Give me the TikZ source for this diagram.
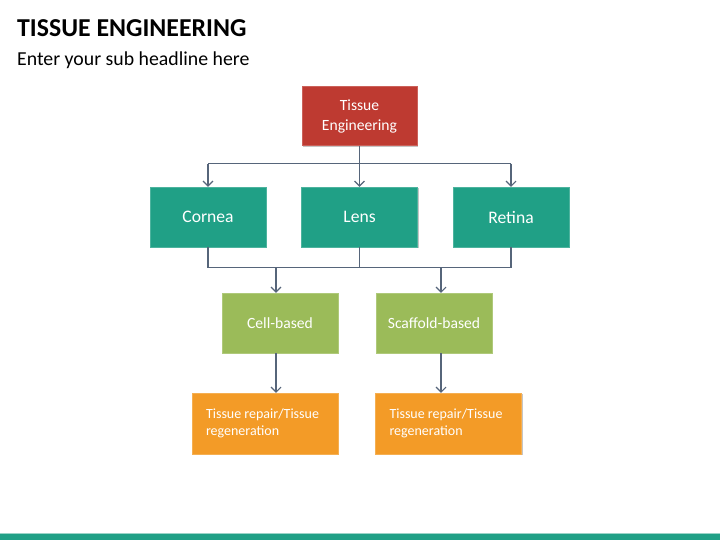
\documentclass[tikz,border=0pt]{standalone}
\usepackage{fontspec}
\setmainfont{Carlito}
\usetikzlibrary{arrows.meta,shadows}

\definecolor{boxred}{HTML}{BE3A31}
\definecolor{boxteal}{HTML}{20A086}
\definecolor{boxgreen}{HTML}{9BBB59}
\definecolor{boxorange}{HTML}{F39B27}
\definecolor{linkgray}{HTML}{56657A}

\tikzset{
	block/.style={draw=#1!80!white, fill=#1, text=white, minimum width=116pt, minimum height=60pt,
		inner sep=2pt, drop shadow={shadow xshift=1.2pt, shadow yshift=-1.2pt, opacity=0.45}},
	link/.style={draw=linkgray, line width=1.3pt},
	tolink/.style={link, -{Straight Barb[length=5pt,width=10pt,line width=1.1pt]}}
}

\begin{document}
\begin{tikzpicture}[x=1pt, y=-1pt]
				\fill[white] (0,0) rectangle (720,540);
				\useasboundingbox (0,0) rectangle (720,540);
				% header
				\node[anchor=base west, inner sep=0pt, font=\fontsize{25.8}{28}\selectfont\bfseries] (title) at (17,37) {TISSUE ENGINEERING};
				\node[anchor=base west, inner sep=0pt, font=\fontsize{19.8}{22}\selectfont] (sub) at (17,66) {Enter your sub headline here};
				% boxes
				\node[block=boxred, minimum width=115pt, minimum height=59pt, align=center, font=\fontsize{15.6}{20}\selectfont] (te) at (359.5,116) {Tissue\\Engineering};
				\foreach \x/\n/\t in {208/cornea/Cornea, 359.5/lens/Lens, 511/retina/Retina}
					\node[block=boxteal, font=\fontsize{17.6}{20}\selectfont] (\n) at (\x,217) {\t};
				\node[block=boxgreen, font=\fontsize{15.6}{18}\selectfont] (cell) at (280,323) {Cell-based};
				\node[block=boxgreen, font=\fontsize{15.6}{18}\selectfont] (scaffold) at (434,323) {Scaffold-based};
				\foreach \x/\n in {265/rep1, 448.5/rep2}
					\node[block=boxorange, minimum width=146pt, minimum height=61pt, align=flush left, text width=118pt, font=\fontsize{14}{17.5}\selectfont] (\n) at (\x,423.5) {Tissue repair/Tissue\\regeneration};
				% links
				\draw[link] (te.south) -- ++(0,18) coordinate (hubtop);
				\draw[link] (cornea.north |- hubtop) -- (retina.north |- hubtop);
				\foreach \n in {cornea, lens, retina}
					\draw[tolink] (\n.north |- hubtop) -- (\n.north);
				\draw[link] (cornea.south) -- ++(0,20) coordinate (hubmid) -| (retina.south);
				\draw[link] (lens.south) -- (lens.south |- hubmid);
				\draw[tolink] ([xshift=-4pt]cell.north |- hubmid) -- ([xshift=-4pt]cell.north);
				\draw[tolink] ([xshift=7pt]scaffold.north |- hubmid) -- ([xshift=7pt]scaffold.north);
				\draw[tolink] ([xshift=-4pt]cell.south) -- ([xshift=-4pt]cell.south |- rep1.north);
				\draw[tolink] ([xshift=7pt]scaffold.south) -- ([xshift=7pt]scaffold.south |- rep2.north);
				% footer bar
				\fill[boxteal!45!white] (0,532.5) rectangle (720,534);
				\fill[boxteal] (0,534) rectangle (720,540);
			\end{tikzpicture}
\end{document}
